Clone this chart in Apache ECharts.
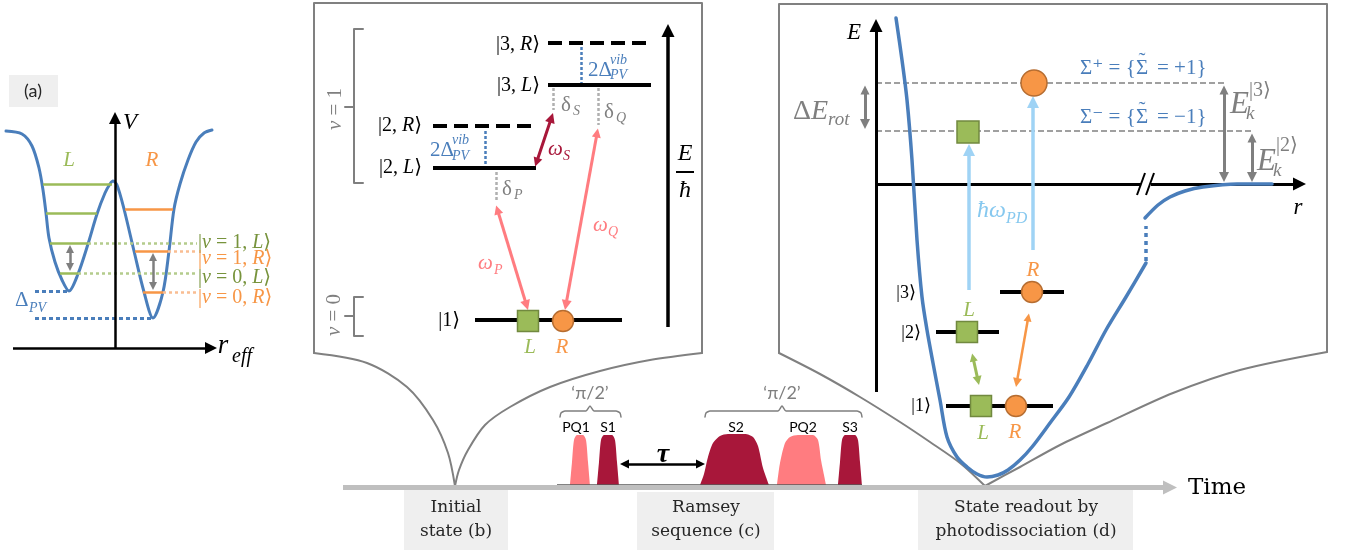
<!DOCTYPE html>
<html>
<head>
<meta charset="utf-8">
<title>Ramsey scheme</title>
<script src="https://cdn.jsdelivr.net/npm/echarts@6/dist/echarts.min.js"></script>
<style>
  html, body { margin: 0; padding: 0; background: #fff; }
  #chart { width: 1351px; height: 550px; }
</style>
</head>
<body>
<div id="chart"></div>
<script>
// diagram units = px of the 1351 x 550 figure, y grows downward

// ---------- (a) double well ----------
const wellCurve = [[6,131],[22,134],[32,146],[39,168],[43,190],[46,213],[49,238],[55,262],[62,280],[69,291],[78,274],[88,244],[97,214],[105,193],[110,184],[113,181],[117,185],[124,209],[134,251],[144,292],[153,318],[163,292],[169,251],[174,209],[180,184],[188,160],[196,142],[204,133],[212,130]]
const aLevelsL = [[43,184,112,184],[46,213,97,213],[50,243,88,243],[60,273,78,273]]
const aLevelsR = [[125,209,173,209],[135,251,168,251],[143,292,163,292]]
const aGuidesL = [[88,243,197,243],[78,273,197,273]]
const aGuidesR = [[168,251,197,251],[163,292,197,292]]
const aDeltaPV = [[35,291,68,291],[35,318,152,318]]
const aSpacings = [[70,245,70,271],[153,253,153,290]]
const aAxes = [[115,348,115,112],[13,348,217,348]]

// ---------- (b) level scheme ----------
const bFrame = [[314,353],[314,3],[702,3],[702,353]]
const bFrameLeft = [[314,353],[367,363],[407,387],[433,420],[448,453],[455,486]]
const bFrameRight = [[702,353],[650,360],[600,371],[550,387],[510,407],[485,425],[468,450],[459,470],[455,486]]
const bBracketV1 = [[363,29],[354,29],[354,107],[345,107],[354,107],[354,183],[363,183]]
const bBracketV0 = [[363,297],[354,297],[354,316],[345,316],[354,316],[354,336],[363,336]]
const bLevelsSolid = [[548,85,651,85],[433,168,536,168],[475,320,622,320]]
const bLevelsDashed = [[548,43,651,43],[433,126,536,126]]
const bSplitting = [[581,47,581,83],[485,131,485,166]]
const bDetunings = [[496,172,496,200],[553,88,553,110],[598,88,598,125]]
const bStokes = [[535,167,553,113]]
const bPump = [[496,205,528,310],[598,128,565,310]]
const bEnergyAxis = [[668,327,668,24]]
const bFractionBar = [[676,172,694,172]]

// ---------- (c) pulse sequence ----------
const pulsePQ1 = [[570,485],[572,462],[574,440],[577,435],[583,435],[586,440],[588,462],[590,485]]
const pulseS1 = [[597,485],[599,462],[601,440],[604,435],[612,435],[615,440],[617,462],[619,485]]
const pulseS2 = [[700,485],[704,474],[708,457],[713,443],[720,436],[728,434],[745,434],[753,437],[758,446],[763,468],[769,485]]
const pulsePQ2 = [[777,485],[780,463],[785,443],[790,437],[798,435],[813,435],[818,440],[821,460],[824,475],[826,485]]
const pulseS3 = [[838,485],[840,462],[842,440],[845,435],[855,435],[858,440],[860,462],[862,485]]
const brace1 = [[560,417],[561,413],[565,411],[586,411],[590,406],[594,411],[616,411],[620,413],[621,417]]
const brace2 = [[705,417],[706,413],[710,411],[778,411],[782,406],[786,411],[857,411],[861,413],[862,417]]
const pulseBase = [[557,485,862,485]]
const tauSpan = [[620,464,705,464]]
const timeAxis = [[343,487.5,1177,487.5]]

// ---------- (d) photodissociation ----------
const dFrame = [[779,353],[779,4],[1327,4],[1327,352]]
const dFrameLeft = [[779,353],[820,374],[860,397],[900,422],[930,442],[960,463],[985,486]]
const dFrameRight = [[1327,352],[1240,370],[1173,393],[1107,423],[1060,445],[1020,467],[985,486]]
const dAxes = [[876,392,876,19],[876,184,1306,184]]
const dBreakGap = [[1141,184,1151,184]]
const dBreak = [[1137,195,1145,173],[1146,195,1154,173]]
const dAsymptotes = [[876,83,1224,83],[876,131,1252,131]]
const dGaps = [[865,85,865,129],[1224,85,1224,182],[1252,133,1252,182]]
const dPhotons = [[969,290,969,144],[1033,250,1033,96]]
const dLevels = [[1000,292,1064,292],[936,332,999,332],[946,406,1053,406]]
const dCouplingL = [[972,353,979,385]]
const dCouplingR = [[1029,313,1016,387]]
const dCurve = [[896,18],[902,60],[907,100],[912,160],[917,240],[922,297],[927,330],[933,363],[940,400],[947,437],[957,457],[967,467],[977,474],[987,477],[998,475],[1008,470],[1020,460],[1032,447],[1050,423],[1069,397],[1088,364],[1106,330],[1126,297],[1146,263]]
const dCurveTail = [[1145,218],[1158,205],[1170,197],[1185,191],[1203,187],[1237,184],[1272,184]]
const dCurveHidden = [[1146,261,1146,226]]

// markers
const squaresL = [[528,321],[967,332],[981,406]]
const circlesR = [[563,321],[1032,292],[1016,406]]
const squareFinal = [[968,132]]
const circleFinal = [[1034,83]]

// grey label boxes [x0, y0, x1, y1]
const boxes = [[9,75,58,107],[404,490,508,550],[637,492,774,550],[918,490,1133,550]]

// text: [x, y, text, style, align, rotate]
const labels = [
  [33, 91, '(a)', 'tag'],
  [130, 123, 'V', 'axis'],
  [223, 346, 'r', 'axisBig'],
  [232, 357, 'eff', 'axisSub', 'left'],
  [69, 160, 'L', 'greenIt'],
  [152, 160, 'R', 'orangeIt'],
  [198, 243, '|{i|v} = 1, {i|L}⟩', 'ketGreen', 'left'],
  [198, 259, '|{i|v} = 1, {i|R}⟩', 'ketOrange', 'left'],
  [198, 278, '|{i|v} = 0, {i|L}⟩', 'ketGreen', 'left'],
  [198, 298, '|{i|v} = 0, {i|R}⟩', 'ketOrange', 'left'],
  [15, 300, 'Δ', 'blue', 'left'],
  [29, 308, 'PV', 'blueSm', 'left'],

  [335, 109, '{i|v} = 1', 'vLabel', 'center', 90],
  [334, 315, '{i|v} = 0', 'vLabel', 'center', 90],
  [540, 45, '|3, {i|R}⟩', 'ket', 'right'],
  [540, 86, '|3, {i|L}⟩', 'ket', 'right'],
  [422, 126, '|2, {i|R}⟩', 'ket', 'right'],
  [422, 168, '|2, {i|L}⟩', 'ket', 'right'],
  [460, 321, '|1⟩', 'ket', 'right'],
  [588, 70, '2Δ', 'blue', 'left'],
  [610, 60, 'vib', 'blueSm', 'left'],
  [610, 75, 'PV', 'blueSm', 'left'],
  [430, 150, '2Δ', 'blue', 'left'],
  [452, 140, 'vib', 'blueSm', 'left'],
  [452, 156, 'PV', 'blueSm', 'left'],
  [502, 189, 'δ', 'gray', 'left'],
  [514, 195, 'P', 'graySub', 'left'],
  [561, 105, 'δ', 'gray', 'left'],
  [573, 111, 'S', 'graySub', 'left'],
  [604, 112, 'δ', 'gray', 'left'],
  [616, 118, 'Q', 'graySub', 'left'],
  [548, 149, 'ω', 'crimson', 'left'],
  [563, 156, 'S', 'crimsonSub', 'left'],
  [593, 225, 'ω', 'salmon', 'left'],
  [608, 232, 'Q', 'salmonSub', 'left'],
  [478, 263, 'ω', 'salmon', 'left'],
  [494, 270, 'P', 'salmonSub', 'left'],
  [685, 154, 'E', 'frac'],
  [685, 191, 'ħ', 'frac'],
  [530, 347, 'L', 'greenIt'],
  [562, 347, 'R', 'orangeIt'],

  [576, 427, 'PQ1', 'pulse'],
  [608, 427, 'S1', 'pulse'],
  [736, 427, 'S2', 'pulse'],
  [803, 427, 'PQ2', 'pulse'],
  [850, 427, 'S3', 'pulse'],
  [590, 393, '‘π/2’', 'brace'],
  [782, 393, '‘π/2’', 'brace'],
  [663, 455, 'τ', 'tau'],

  [1188, 488, 'Time', 'time', 'left'],
  [456, 508, 'Initial', 'prose'],
  [456, 532, 'state (b)', 'prose'],
  [706, 508, 'Ramsey', 'prose'],
  [706, 532, 'sequence (c)', 'prose'],
  [1026, 508, 'State readout by', 'prose'],
  [1026, 532, 'photodissociation (d)', 'prose'],

  [854, 33, 'E', 'axis'],
  [1298, 208, 'r', 'axis'],
  [793, 112, 'Δ{i|E}', 'grayBig', 'left'],
  [828, 120, 'rot', 'graySubBig', 'left'],
  [1080, 68, 'Σ⁺ = {', 'sigma', 'left'],
  [1142, 68, 'Σ', 'sigma'],
  [1142, 61, '˜', 'sigma'],
  [1157, 68, '= +1}', 'sigma', 'left'],
  [1080, 117, 'Σ⁻ = {', 'sigma', 'left'],
  [1142, 117, 'Σ', 'sigma'],
  [1142, 110, '˜', 'sigma'],
  [1157, 117, '= −1}', 'sigma', 'left'],
  [977, 211, 'ħω', 'sky', 'left'],
  [1006, 219, 'PD', 'skySub', 'left'],
  [1230, 105, 'E', 'grayIt', 'left'],
  [1249, 91, '|3⟩', 'graySup', 'left'],
  [1246, 114, 'k', 'graySubBig', 'left'],
  [1257, 162, 'E', 'grayIt', 'left'],
  [1276, 146, '|2⟩', 'graySup', 'left'],
  [1273, 171, 'k', 'graySubBig', 'left'],
  [916, 293, '|3⟩', 'ketSm', 'right'],
  [921, 333, '|2⟩', 'ketSm', 'right'],
  [931, 406, '|1⟩', 'ketSm', 'right'],
  [1033, 270, 'R', 'orangeIt'],
  [969, 310, 'L', 'greenIt'],
  [983, 433, 'L', 'greenIt'],
  [1015, 432, 'R', 'orangeIt']
]

const SERIF = '"Liberation Serif", "DejaVu Serif", serif'
const PROSE = '"DejaVu Serif", serif'
const SANS = 'Lato, "Liberation Sans", sans-serif'

const COL = {
  blue: '#4a7ebb', green: '#9bbb59', greenText: '#77933c', orange: '#f79646',
  gray: '#7f7f7f', crimson: '#a8173a', salmon: '#ff7c80', sky: '#9fd3f5',
  skyText: '#86c8ef', frame: '#808080', band: '#bfbfbf'
}

// [size, family, colour, italic, bold]
const TS = {
  tag: [18, SANS, '#262626'],
  pulse: [14, SANS, '#000'],
  brace: [18, SANS, COL.gray],
  prose: [17, PROSE, '#262626'],
  time: [23, PROSE, '#000'],
  ket: [20, SERIF, '#000'],
  ketSm: [18, SERIF, '#000'],
  ketGreen: [20, SERIF, COL.greenText],
  ketOrange: [20, SERIF, COL.orange],
  axis: [23, SERIF, '#000', 1],
  axisBig: [27, SERIF, '#000', 1],
  axisSub: [20, SERIF, '#000', 1],
  vLabel: [21, SERIF, COL.gray],
  greenIt: [21, SERIF, COL.green, 1],
  orangeIt: [21, SERIF, COL.orange, 1],
  blue: [21, SERIF, COL.blue],
  blueSm: [14, SERIF, COL.blue, 1],
  sigma: [21, SERIF, COL.blue],
  gray: [21, SERIF, COL.gray],
  grayBig: [28, SERIF, COL.gray],
  grayIt: [31, SERIF, COL.gray, 1],
  graySub: [14, SERIF, COL.gray, 1],
  graySubBig: [19, SERIF, COL.gray, 1],
  graySup: [20, SERIF, COL.gray],
  crimson: [21, SERIF, COL.crimson, 1],
  crimsonSub: [14, SERIF, COL.crimson, 1],
  salmon: [21, SERIF, COL.salmon, 1],
  salmonSub: [14, SERIF, COL.salmon, 1],
  sky: [24, SERIF, COL.skyText, 1],
  skySub: [16, SERIF, COL.skyText, 1],
  tau: [28, SERIF, '#000', 1, 1],
  frac: [24, SERIF, '#000', 1]
}

// segments -> lines-series items; arrow ends are pulled back so the triangle tip lands on the end point
function segs(list, color, width, o = {}) {
  return list.map(s => {
    let [x0, y0, x1, y1] = s
    const head = o.head
    if (head) {
      const dx = x1 - x0, dy = y1 - y0, k = o.size[1] / 2 / Math.hypot(dx, dy)
      x1 -= dx * k; y1 -= dy * k
      if (head === 'both') { x0 += dx * k; y0 += dy * k }
    }
    return {
      coords: [[x0, y0], [x1, y1]],
      symbol: head === 'both' ? ['triangle', 'triangle'] : head === 'end' ? ['none', 'triangle'] : ['none', 'none'],
      symbolSize: o.size || 0,
      lineStyle: { color, width, type: o.type || 'solid', opacity: 1 }
    }
  })
}

function curve(data, color, width, extra = {}) {
  return Object.assign({
    type: 'line', data, smooth: 0.3, symbol: 'none', silent: true, z: 2,
    lineStyle: { color, width, join: 'round', cap: 'round' }
  }, extra)
}

function pulse(data, color) {
  return curve(data, color, 0, { smooth: 0.25, areaStyle: { color, opacity: 1, origin: 485 }, lineStyle: { width: 0 } })
}

function lines(data, z) {
  return { type: 'lines', coordinateSystem: 'cartesian2d', silent: true, z: z || 3, lineStyle: { opacity: 1 }, data }
}

function markers(data, symbol, size, fill, border) {
  return {
    type: 'scatter', data, symbol, symbolSize: size, silent: true, z: 5,
    itemStyle: { color: fill, borderColor: border, borderWidth: 1.5, opacity: 1 }
  }
}

const plain = [].concat(
  segs(aLevelsL, COL.green, 2.5),
  segs(aLevelsR, COL.orange, 2.5),
  segs(aGuidesL, '#b4cc8c', 2.5, { type: [3, 3] }),
  segs(aGuidesR, '#f9bd92', 2.5, { type: [3, 3] }),
  segs(aDeltaPV, COL.blue, 3, { type: [4, 3] }),
  segs(bLevelsSolid, '#000', 4),
  segs(bLevelsDashed, '#000', 4, { type: [14, 7] }),
  segs(bSplitting, COL.blue, 2.5, { type: [3, 2] }),
  segs(bDetunings, '#b0b0b0', 2.5, { type: [3, 2] }),
  segs(bFractionBar, '#000', 2),
  segs(pulseBase, '#595959', 1.5),
  segs(dAsymptotes, '#a0a0a0', 2, { type: [6, 3] }),
  segs(dLevels, '#000', 4),
  segs(dCurveHidden, COL.blue, 3.5, { type: [4, 4] })
)

const arrows = [].concat(
  segs(timeAxis, COL.band, 5, { head: 'end', size: [15, 14] }),
  segs(aAxes, '#000', 2.5, { head: 'end', size: [10, 12] }),
  segs(aSpacings, COL.gray, 2.5, { head: 'both', size: [8, 8] }),
  segs(bEnergyAxis, '#000', 3.5, { head: 'end', size: [11, 13] }),
  segs(bStokes, COL.crimson, 3, { head: 'both', size: [9, 10] }),
  segs(bPump, COL.salmon, 3, { head: 'both', size: [9, 10] }),
  segs(tauSpan, '#000', 2.5, { head: 'both', size: [9, 9] }),
  segs(dAxes, '#000', 3, { head: 'end', size: [11, 13] }),
  segs(dGaps, COL.gray, 3, { head: 'both', size: [9, 10] }),
  segs(dPhotons, COL.sky, 3.5, { head: 'end', size: [12, 12] }),
  segs(dCouplingL, COL.green, 3, { head: 'both', size: [8, 9] }),
  segs(dCouplingR, COL.orange, 2.5, { head: 'both', size: [8, 9] })
)

const breakMarks = [].concat(
  segs(dBreakGap, '#fff', 6),
  segs(dBreak, '#000', 2)
)

function textItem(params, api) {
  const t = labels[params.dataIndex]
  const [size, family, color, italic, bold] = TS[t[3]]
  const p = api.coord([t[0], t[1]])
  return {
    type: 'text', x: p[0], y: p[1],
    rotation: t[5] ? t[5] * Math.PI / 180 : 0,
    style: {
      text: t[2], fill: color, fontSize: size, fontFamily: family,
      fontStyle: italic ? 'italic' : 'normal', fontWeight: bold ? 'bold' : 'normal',
      align: t[4] || 'center', verticalAlign: 'middle',
      rich: { i: { fontSize: size, fontFamily: family, fontStyle: 'italic', fill: color } }
    }
  }
}

function boxItem(params, api) {
  const b = boxes[params.dataIndex]
  const p0 = api.coord([b[0], b[1]]), p1 = api.coord([b[2], b[3]])
  return { type: 'rect', shape: { x: p0[0], y: p0[1], width: p1[0] - p0[0], height: p1[1] - p0[1] }, style: { fill: '#efefef' } }
}

const chart = echarts.init(document.getElementById('chart'))
chart.setOption({
  animation: false,
  backgroundColor: '#fff',
  grid: { left: 0, right: 0, top: 0, bottom: 0 },
  xAxis: { type: 'value', min: 0, max: 1351, show: false },
  yAxis: { type: 'value', min: 0, max: 550, inverse: true, show: false },
  series: [
    { type: 'custom', silent: true, z: 1, data: boxes.map(b => [b[0], b[1]]), renderItem: boxItem },
    curve(wellCurve, COL.blue, 3),
    curve(bFrame, COL.frame, 2, { smooth: false }),
    curve(bFrameLeft, COL.frame, 2),
    curve(bFrameRight, COL.frame, 2),
    curve(bBracketV1, COL.gray, 2, { smooth: false }),
    curve(bBracketV0, COL.gray, 2, { smooth: false }),
    curve(dFrame, COL.frame, 2, { smooth: false }),
    curve(dFrameLeft, COL.frame, 2),
    curve(dFrameRight, COL.frame, 2),
    curve(brace1, COL.gray, 1.5, { smooth: 0.2 }),
    curve(brace2, COL.gray, 1.5, { smooth: 0.2 }),
    pulse(pulsePQ1, COL.salmon),
    pulse(pulseS1, COL.crimson),
    pulse(pulseS2, COL.crimson),
    pulse(pulsePQ2, COL.salmon),
    pulse(pulseS3, COL.crimson),
    lines(plain, 3),
    lines(arrows, 3),
    curve(dCurve, COL.blue, 3.5, { z: 4 }),
    curve(dCurveTail, COL.blue, 3.5, { z: 4 }),
    lines(breakMarks, 4),
    markers(squaresL, 'rect', 21, COL.green, '#71893f'),
    markers(circlesR, 'circle', 21, COL.orange, '#b66d31'),
    markers(squareFinal, 'rect', 22, COL.green, '#71893f'),
    markers(circleFinal, 'circle', 26, COL.orange, '#b66d31'),
    { type: 'custom', silent: true, z: 10, data: labels.map(t => [t[0], t[1]]), renderItem: textItem }
  ]
})
</script>
</body>
</html>
